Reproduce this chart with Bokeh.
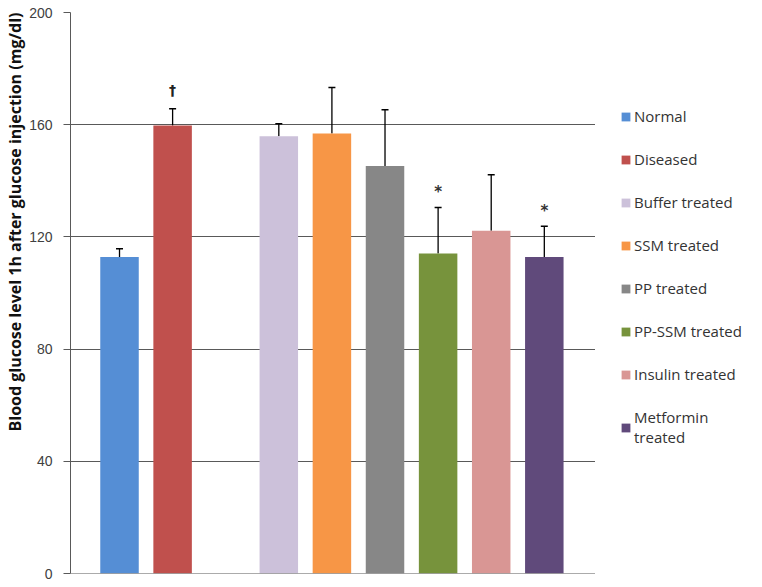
from bokeh.plotting import figure
from bokeh.layouts import row
from bokeh.models import (ColumnDataSource, Range1d, FixedTicker, Whisker, TeeHead,
                          Legend, LegendItem, Span, Title)
from bokeh.core.properties import value
from bokeh.embed import file_html
from bokeh.resources import INLINE

# ---- data ----
groups = ["Normal", "Diseased", "Buffer treated", "SSM treated", "PP treated",
          "PP-SSM treated", "Insulin treated", "Metformin\ntreated"]
glucose = [112.8, 159.7, 155.9, 156.9, 145.3, 114.1, 122.2, 112.8]
errors = [3.0, 6.0, 4.4, 16.4, 20.0, 16.4, 20.0, 11.0]
marks = ["", "\u2020", "", "", "", "*", "", "*"]
colors = ["#558ED5", "#C0504D", "#CCC1DA", "#F79646", "#878787",
          "#77933C", "#D99694", "#604A7B"]
y_ticks = [0, 40, 80, 120, 160, 200]

# slot positions: an empty slot separates the control pair from treatments
slots = [i + (1 if i >= 2 else 0) for i in range(len(groups))]
upper = [g + e for g, e in zip(glucose, errors)]

src = ColumnDataSource(dict(x=slots, top=glucose, upper=upper, color=colors,
                            name=groups))
dag = ColumnDataSource(dict(x=[s for s, m in zip(slots, marks) if m == "\u2020"],
                            y=[u for u, m in zip(upper, marks) if m == "\u2020"]))
ast = ColumnDataSource(dict(x=[s for s, m in zip(slots, marks) if m == "*"],
                            y=[u for u, m in zip(upper, marks) if m == "*"]))

p = figure(width=595, height=587, output_backend="svg", toolbar_location=None,
           x_range=Range1d(-0.923, 8.964), y_range=Range1d(0, 200),
           min_border_left=70, min_border_right=0, min_border_top=12,
           min_border_bottom=14)
p.outline_line_color = None
p.background_fill_color = "white"
p.border_fill_color = "white"

bars = p.vbar(x="x", top="top", width=0.725, bottom=0, source=src,
              fill_color="color", line_color=None)

w = Whisker(base="x", lower="top", upper="upper", source=src,
            line_color="black", line_width=1.3,
            upper_head=TeeHead(size=7, line_color="black", line_width=1.5),
            lower_head=None)
p.add_layout(w)

p.text(x="x", y="y", text=value("\u2020"), source=dag, y_offset=-19,
       text_align="center", text_baseline="middle",
       text_font=value("DejaVu Sans"), text_font_size="14px",
       text_font_style="bold", text_color="#222222")
p.text(x="x", y="y", text=value("*"), source=ast, y_offset=-15,
       text_align="center", text_baseline="middle",
       text_font=value("DejaVu Sans"), text_font_size="15px",
       text_font_style="bold", text_color="#333333")

# axes
p.xaxis.visible = False
p.xgrid.visible = False
p.yaxis.ticker = FixedTicker(ticks=y_ticks)
p.ygrid.ticker = FixedTicker(ticks=y_ticks)
p.ygrid.grid_line_color = "#595959"
p.ygrid.grid_line_width = 1
p.yaxis.axis_line_color = "#595959"
p.yaxis.major_tick_line_color = "#595959"
p.yaxis.major_tick_out = 7
p.yaxis.major_tick_in = 0
p.yaxis.minor_tick_line_color = None
p.yaxis.major_label_text_font = "Liberation Sans"
p.yaxis.major_label_text_font_size = "14px"
p.yaxis.major_label_text_color = "#404040"
p.yaxis.major_label_standoff = 11

p.add_layout(Span(location=0, dimension="width", line_color="#595959",
                  line_width=1))

ttl = Title(text="Blood glucose level 1h after glucose injection (mg/dl)",
            align="right", offset=0, text_font="Open Sans",
            text_font_size="16px", text_font_style="bold",
            text_color="#111111", standoff=2)
p.add_layout(ttl, "left")

# ---- legend panel (separate figure to the right) ----
lp = figure(width=167, height=587, output_backend="svg", toolbar_location=None,
            x_range=Range1d(-100, -99), y_range=Range1d(0, 200),
            min_border=0)
lp.outline_line_color = None
lp.axis.visible = False
lp.grid.visible = False
lbars = lp.vbar(x="x", top="top", width=0.725, bottom=0, source=src,
                fill_color="color", line_color=None)

items = [LegendItem(label=g, renderers=[lbars], index=i) for i, g in enumerate(groups)]
legend = Legend(items=items, location=(25, 126), padding=0, margin=0,
                spacing=23, label_height=20, glyph_height=11, glyph_width=11,
                label_standoff=3, label_text_font="Open Sans",
                label_text_font_size="15px", label_text_color="#333333",
                border_line_color=None, background_fill_alpha=0)
lp.add_layout(legend)

layout = row(p, lp, spacing=0)
open("out.html", "w").write(file_html(layout, INLINE))
